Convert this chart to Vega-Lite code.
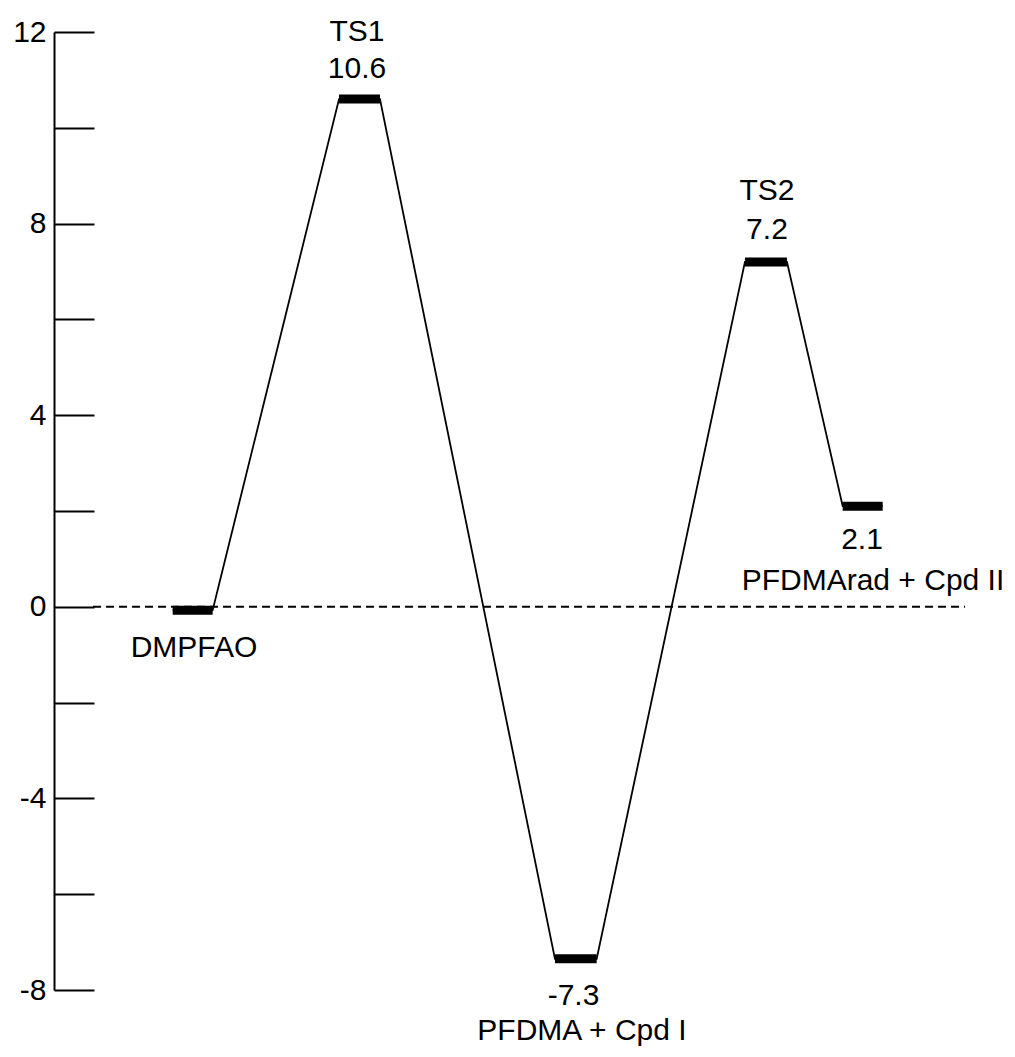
{
  "$schema": "https://vega.github.io/schema/vega-lite/v6.json",
  "width": 961,
  "height": 958,
  "autosize": {"type": "none"},
  "padding": {"left": 54, "top": 32, "right": 0, "bottom": 67},
  "background": "white",
  "config": {"view": {"stroke": null}, "font": "Liberation Sans"},
  "datasets": {
    "levels": [
      {"state": "DMPFAO", "x_start": 1.235, "x_end": 1.651, "energy": -0.07},
      {"state": "TS1", "x_start": 2.966, "x_end": 3.392, "energy": 10.6},
      {"state": "PFDMA + Cpd I", "x_start": 5.213, "x_end": 5.647, "energy": -7.35},
      {"state": "TS2", "x_start": 7.19, "x_end": 7.627, "energy": 7.2},
      {"state": "PFDMArad + Cpd II", "x_start": 8.207, "x_end": 8.623, "energy": 2.1}
    ],
    "labels": [
      {"text": "TS1", "x": 3.153, "y": 11.81},
      {"text": "10.6", "x": 3.153, "y": 11.05},
      {"text": "TS2", "x": 7.419, "y": 8.5},
      {"text": "7.2", "x": 7.419, "y": 7.67},
      {"text": "2.1", "x": 8.408, "y": 1.2},
      {"text": "PFDMArad + Cpd II", "x": 8.522, "y": 0.36},
      {"text": "DMPFAO", "x": 1.457, "y": -1.04},
      {"text": "-7.3", "x": 5.406, "y": -8.31},
      {"text": "PFDMA + Cpd I", "x": 5.494, "y": -9.04}
    ],
    "baseline": [{"x_start": 0.406, "x_end": 9.48, "energy": 0}]
  },
  "layer": [
    {
      "data": {"name": "baseline"},
      "mark": {"type": "rule", "strokeDash": [8, 5], "strokeWidth": 2, "color": "black"},
      "encoding": {
        "x": {"field": "x_start", "type": "quantitative", "scale": {"domain": [0, 10], "nice": false, "zero": false}, "axis": null},
        "x2": {"field": "x_end"},
        "y": {
          "field": "energy", "type": "quantitative",
          "scale": {"domain": [-8, 12], "nice": false, "zero": false},
          "axis": {
            "orient": "left", "title": null, "grid": false,
            "values": [-8, -6, -4, -2, 0, 2, 4, 6, 8, 10, 12],
            "labelExpr": "datum.value % 4 == 0 ? toString(datum.value) : ''",
            "domainColor": "black", "domainWidth": 2,
            "tickColor": "black", "tickWidth": 2, "tickSize": -40,
            "labelPadding": 48, "labelFontSize": 30, "labelColor": "black",
            "labelFont": "Liberation Sans", "labelOverlap": false, "labelFlush": false
          }
        }
      }
    },
    {
      "data": {"name": "levels"},
      "transform": [{"fold": ["x_start", "x_end"], "as": ["end", "x"]}],
      "mark": {"type": "line", "color": "black", "strokeWidth": 1.8},
      "encoding": {
        "x": {"field": "x", "type": "quantitative", "title": null},
        "y": {"field": "energy", "type": "quantitative", "title": null},
        "order": {"field": "x", "type": "quantitative"}
      }
    },
    {
      "data": {"name": "levels"},
      "mark": {"type": "rule", "strokeWidth": 9, "color": "black", "strokeCap": "butt"},
      "encoding": {
        "x": {"field": "x_start", "type": "quantitative", "title": null},
        "x2": {"field": "x_end"},
        "y": {"field": "energy", "type": "quantitative", "title": null}
      }
    },
    {
      "data": {"name": "labels"},
      "mark": {"type": "text", "fontSize": 30, "baseline": "alphabetic", "align": "center", "color": "black", "font": "Liberation Sans"},
      "encoding": {
        "x": {"field": "x", "type": "quantitative", "title": null},
        "y": {"field": "y", "type": "quantitative", "title": null},
        "text": {"field": "text", "type": "nominal"}
      }
    }
  ]
}
